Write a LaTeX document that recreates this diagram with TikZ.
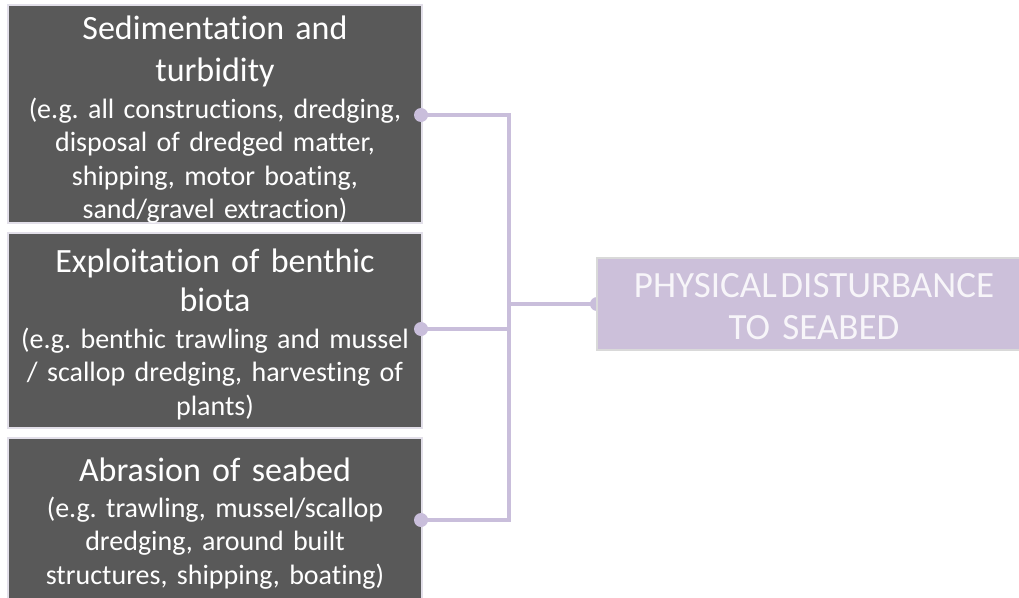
\documentclass[tikz,border=0pt]{standalone}
\usepackage{fontspec}
\setmainfont[Ligatures=NoCommon]{Carlito}
\frenchspacing
\definecolor{boxgrey}{HTML}{595959}
\definecolor{boxedge}{HTML}{E2DFE9}
\definecolor{lav}{HTML}{CCC0DA}
\definecolor{lavedge}{HTML}{D9D9D9}
\definecolor{linkc}{HTML}{C9BEDB}
\definecolor{paletext}{HTML}{F7F5F9}
\begin{document}
\begin{tikzpicture}[x=1pt,y=-1pt,
  srcbox/.style={draw=boxedge, line width=2pt, fill=boxgrey, inner sep=0pt,
    outer sep=0pt, minimum width=414pt, anchor=north west},
  ttl/.style={text=white, text width=410pt, align=center, anchor=base,
    inner sep=0pt, font=\fontsize{34}{42}\selectfont},
  sub/.style={text=white, text width=410pt, align=center, anchor=base,
    inner sep=0pt, font=\fontsize{28}{33.6}\selectfont},
  target/.style={draw=lavedge, line width=1.5pt, fill=lav, inner sep=0pt,
    outer sep=0pt, minimum width=436pt, minimum height=92pt, anchor=west},
  ttext/.style={text=paletext, text width=430pt, align=center, anchor=base,
    inner sep=0pt, font=\fontsize{37}{42}\selectfont},
  link/.style={draw=linkc, line width=3.5pt, line join=miter},
  dot/.style={fill=linkc}]
\useasboundingbox (0,0) rectangle (1019,597);

% source boxes
\node[srcbox, minimum height=218pt] (b1) at (8,5) {};
\node[srcbox, minimum height=195pt] (b2) at (8,233) {};
\node[srcbox, minimum height=175pt] (b3) at (8,438) {};

% box texts
\node[ttl] (t1) at (215,39) {Sedimentation and\\turbidity};
\node[sub] (s1) at (215,118) {(e.g. all constructions, dredging,\\disposal of dredged matter,\\shipping, motor boating,\\sand/gravel extraction)};
\node[ttl, font=\fontsize{34}{39}\selectfont] (t2) at (215,272) {Exploitation of benthic\\biota};
\node[sub] (s2) at (215,348) {(e.g. benthic trawling and mussel\\/ scallop dredging, harvesting of\\plants)};
\node[ttl] (t3) at (215,481) {Abrasion of seabed};
\node[sub] (s3) at (215,517) {(e.g. trawling, mussel/scallop\\dredging, around built\\structures, shipping, boating)};

% connector points
\coordinate (p1) at (421,115);
\coordinate (p2) at (421,329);
\coordinate (p3) at (421,520);
\coordinate (j1) at (509,115);
\coordinate (j2) at (509,329);
\coordinate (j3) at (509,520);
\coordinate (jm) at (509,304);
\coordinate (q) at (597,304);

% bracket connector
\draw[link] (p1) -- (j1) -- (j3) -- (p3);
\draw[link] (p2) -- (j2);
\draw[link] (jm) -- (q);
\foreach \p in {p1,p2,p3,q} \fill[dot] (\p) circle (7);

% target box
\node[target] (dist) at (q) {};
\node[ttext] (d) at (814,297) {PHYSICAL\hspace{0.1em}DISTURBANCE\\TO SEABED};
\end{tikzpicture}
\end{document}
